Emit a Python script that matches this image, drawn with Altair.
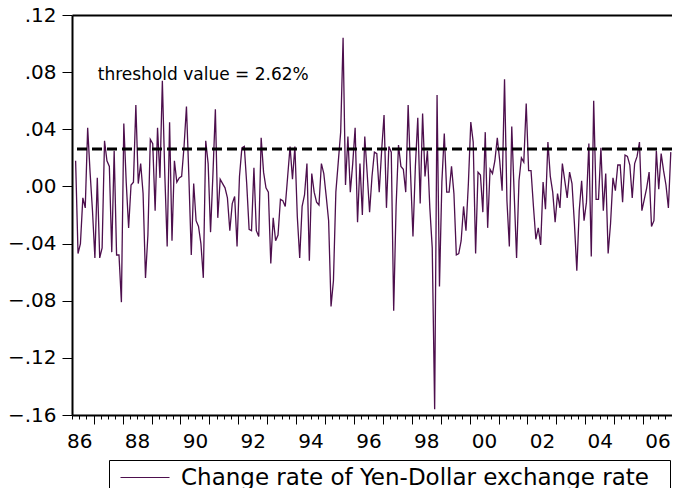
import altair as alt
import pandas as pd

# Monthly change rate of the Yen-Dollar exchange rate, 1986M05 .. 2006M12
v_1986_1991 = [0.018, -0.047, -0.040, -0.008, -0.015, 0.041, 0.010, -0.017, -0.050, 0.006,
               -0.050, -0.043, 0.032, 0.018, 0.014, -0.046, 0.025, -0.048, -0.048, -0.081,
               0.044, 0.003, -0.029, 0.001, 0.003, 0.057, 0.002, 0.016, -0.005, -0.064,
               -0.034, 0.033, 0.030, -0.017, 0.041, 0.006, 0.074, 0.009, -0.042, 0.045,
               -0.038, 0.018, 0.003, 0.006, 0.007, 0.028, 0.056, 0.007, -0.048, 0.002,
               -0.024, -0.028, -0.040, -0.064, 0.032, 0.016, -0.032, 0.009, 0.054, -0.022]
v_1991_1996 = [0.005, 0.002, -0.001, -0.008, -0.031, -0.012, -0.007, -0.042, 0.007, 0.027,
               0.028, 0.002, -0.030, -0.031, 0.013, -0.031, -0.035, 0.034, 0.010, -0.001,
               -0.004, -0.054, -0.022, -0.038, -0.034, -0.009, -0.010, -0.014, 0.007, 0.028,
               0.005, 0.028, -0.021, -0.050, -0.014, -0.006, 0.016, -0.052, 0.009, -0.004,
               -0.011, -0.013, 0.016, 0.009, -0.007, -0.024, -0.084, -0.066, -0.004, 0.017,
               0.038, 0.104, 0.001, 0.035, -0.004, 0.016, 0.041, -0.025, 0.016, -0.020,
               0.035]
v_1996_2001 = [0.009, -0.018, 0.007, 0.024, 0.023, -0.004, 0.025, 0.050, -0.015, 0.028,
               0.024, -0.087, -0.014, 0.029, 0.014, 0.012, -0.004, 0.057, 0.009, -0.035,
               0.014, 0.048, -0.012, 0.051, 0.007, 0.025, -0.015, -0.043, -0.156, 0.064,
               -0.070, 0.003, 0.037, -0.004, -0.004, 0.014, -0.005, -0.048, -0.047, -0.038,
               -0.014, -0.031, 0.002, 0.045, 0.031, -0.047, 0.010, 0.008, -0.018, 0.038,
               -0.029, 0.012, 0.009, 0.018, 0.034, 0.018, -0.003, 0.075, -0.010, -0.042,
               0.042]
v_2001_2006 = [-0.005, -0.050, 0.004, 0.020, 0.017, 0.058, 0.011, 0.011, -0.014, -0.037,
               -0.029, -0.041, 0.003, -0.016, 0.031, 0.007, -0.004, -0.025, -0.005, -0.015,
               0.016, 0.004, -0.008, 0.010, 0.002, -0.026, -0.059, -0.017, 0.004, -0.024,
               -0.011, 0.030, -0.049, 0.060, -0.009, -0.009, 0.027, -0.017, 0.009, -0.047,
               -0.026, 0.006, -0.003, 0.015, 0.015, -0.011, 0.022, 0.021, 0.015, -0.008,
               0.016, 0.021, 0.031, -0.017, -0.009, -0.001, 0.010, -0.028, -0.024, 0.025,
               -0.002, 0.023, 0.011, 0.001, -0.015, 0.024]

values = v_1986_1991 + v_1991_1996 + v_1996_2001 + v_2001_2006
start_year, start_month = 1986, 5
series_name = "Change rate of Yen-Dollar exchange rate"
threshold = 0.0262
threshold_label = "threshold value = 2.62%"

y_ticks = [-0.16, -0.12, -0.08, -0.04, 0.0, 0.04, 0.08, 0.12]
year_label_pos = [1986.5 + 2 * i for i in range(11)]      # centre of even years
year_ticks = [1987 + i for i in range(20)]                  # year boundaries
quarter_ticks = [1986.25 + 0.25 * i for i in range(84)]     # quarter boundaries

df = pd.DataFrame({
    "t": [start_year + (start_month - 1 + k + 0.5) / 12 for k in range(len(values))],
    "v": values,
    "series": series_name,
})
one = pd.DataFrame({"a": [0]})

FONT = "DejaVu Sans"
PAD = "  \u200b"  # two spaces kept by a zero-width char, only to widen the legend frame
x_scale = alt.Scale(domain=[1986.25, 2007.0], nice=False, zero=False)
y_scale = alt.Scale(domain=[-0.16, 0.12], nice=False, zero=False)

label_axis = alt.Axis(
    values=year_label_pos, orient="bottom", title=None, grid=False,
    domain=True, domainColor="black", domainWidth=2, ticks=False,
    labelExpr="format(floor(datum.value) % 100, '02d')",
    labelOverlap=False, labelFlush=False, labelFont=FONT, labelFontSize=20,
    labelColor="black", labelPadding=16,
)
major_axis = alt.Axis(
    values=year_ticks, orient="bottom", title=None, grid=False, domain=False, labels=False,
    tickColor="black", tickWidth=1, tickSize=9,
)
minor_axis = alt.Axis(
    values=quarter_ticks, orient="bottom", title=None, grid=False, domain=False, labels=False,
    tickColor="black", tickWidth=1, tickSize=4,
)
top_axis = alt.Axis(
    orient="top", title=None, grid=False, domain=True, domainColor="black", domainWidth=2,
    ticks=False, labels=False,
)
y_axis = alt.Axis(
    values=y_ticks, title=None, grid=False,
    domain=True, domainColor="black", domainWidth=2,
    labelExpr="replace(format(datum.value, '.2f'), '0.', '.')",
    labelFont=FONT, labelFontSize=20, labelColor="black", labelPadding=6,
    tickColor="black", tickWidth=1, tickSize=10,
)

line = alt.Chart(df).mark_line(strokeWidth=1.3).encode(
    x=alt.X("t:Q", scale=x_scale, axis=label_axis),
    y=alt.Y("v:Q", scale=y_scale, axis=y_axis),
    color=alt.Color("series:N", scale=alt.Scale(range=["#4d0f4d"]), legend=alt.Legend(
        title=None, orient="none", legendX=37, legendY=445,
        symbolType="M-1.2,0H8.6", symbolSize=100, symbolStrokeWidth=1.2,
        labelFont=FONT, labelFontSize=23, labelColor="black", labelLimit=0,
        labelExpr="datum.label + '" + PAD + "'",
        labelOffset=43, strokeColor="black", fillColor="white", padding=6,
    )),
)

major = alt.Chart(df).mark_point(opacity=0).encode(
    x=alt.X("t:Q", scale=x_scale, axis=major_axis),
)
minor = alt.Chart(df).mark_point(opacity=0).encode(
    x=alt.X("t:Q", scale=x_scale, axis=minor_axis),
)
top = alt.Chart(df).mark_point(opacity=0).encode(
    x=alt.X("t:Q", scale=x_scale, axis=top_axis),
)

rule = alt.Chart(one).mark_rule(color="black", strokeWidth=3, strokeDash=[10, 5]).encode(
    y=alt.YDatum(threshold, scale=y_scale)
)

label = alt.Chart(one).mark_text(
    text=threshold_label, align="left", baseline="alphabetic",
    font=FONT, fontSize=17, color="black"
).encode(
    x=alt.XDatum(1987.14, scale=x_scale, axis=None),
    y=alt.YDatum(0.0745, scale=y_scale),
)

chart = alt.layer(line, major, minor, top, rule, label).resolve_axis(x="independent").properties(
    width=600, height=400,
    autosize=alt.AutoSizeParams(type="none"),
    padding={"left": 64, "top": 7, "right": 0, "bottom": 73},
).configure(font=FONT).configure_view(stroke=None)

chart.save("out.html", embed_options={"renderer": "svg", "actions": False})
